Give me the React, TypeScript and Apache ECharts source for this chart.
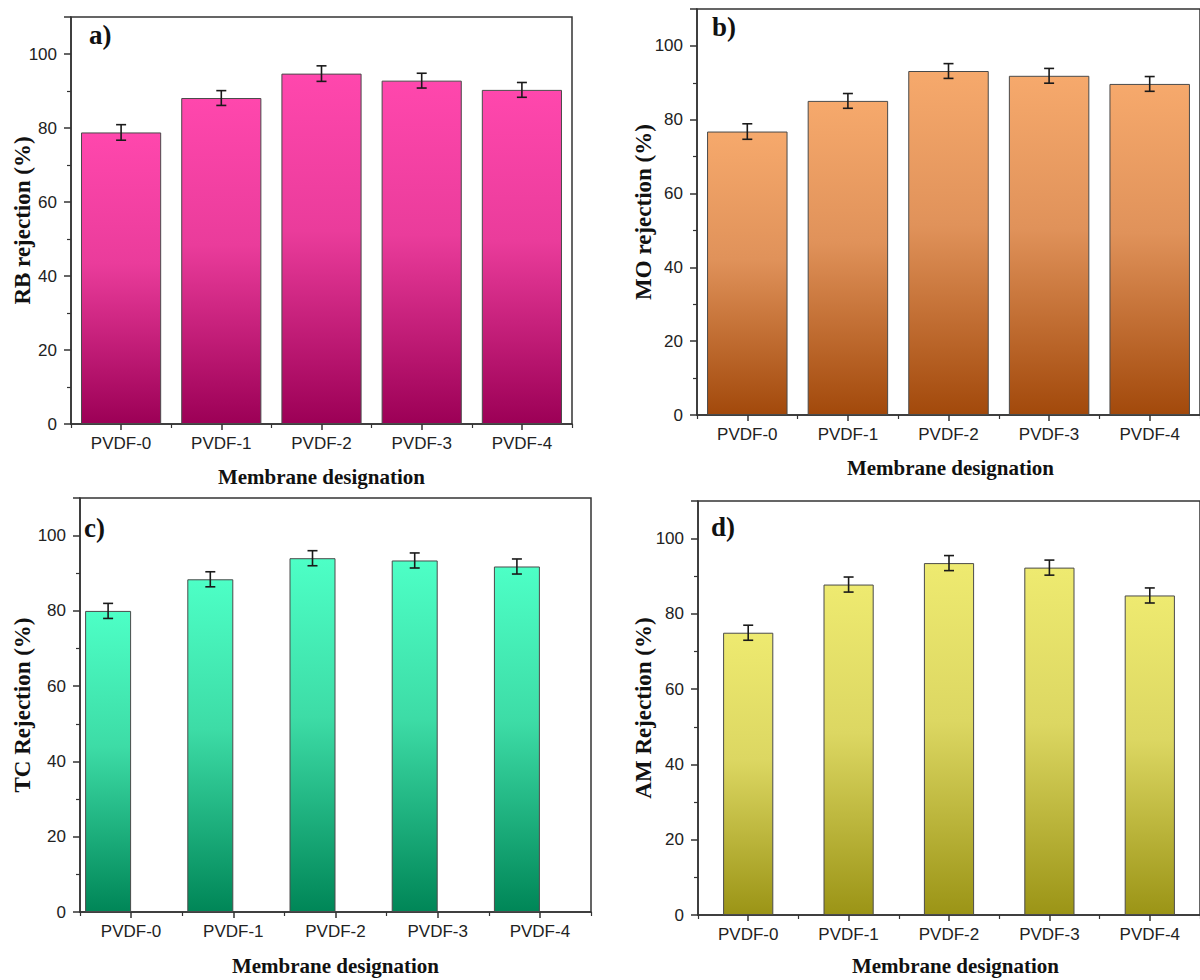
import React, { useEffect, useRef } from 'react';
import * as echarts from 'echarts';

// ---------- data ----------
const categories = ['PVDF-0', 'PVDF-1', 'PVDF-2', 'PVDF-3', 'PVDF-4'];
const rbRejection = [78.8, 88.1, 94.7, 92.8, 90.3];
const moRejection = [76.8, 85.1, 93.2, 91.9, 89.7];
const tcRejection = [80.0, 88.4, 94.0, 93.4, 91.8];
const amRejection = [75.0, 87.8, 93.5, 92.3, 84.9];
const rbError = [2.1, 2.0, 2.1, 2.0, 2.0];
const moError = [2.1, 2.0, 2.0, 2.0, 2.0];
const tcError = [2.0, 2.0, 2.0, 2.0, 2.0];
const amError = [2.0, 2.0, 2.0, 2.0, 2.0];
const yTickLabels = [0, 20, 40, 60, 80, 100];
const yMax = 110;
const panelLabels = ['a)', 'b)', 'c)', 'd)'];
const yTitles = ['RB rejection (%)', 'MO rejection (%)', 'TC Rejection (%)', 'AM Rejection (%)'];
const xTitle = 'Membrane designation';

// ---------- layout / style ----------
const panels = [
  {
    values: rbRejection, errors: rbError,
    grid: { left: 71, top: 17, width: 501, height: 407 },
    stops: [[0, '#ff47ad'], [0.45, '#ea3c9b'], [1, '#9c0056']],
    barCategoryGap: '20%', offsetBars: false, errOffset: 0,
    label: { x: 89, y: 35 }, yTitle: { x: 22 }, xTitleDy: 53,
  },
  {
    values: moRejection, errors: moError,
    grid: { left: 697, top: 9, width: 507, height: 406 },
    stops: [[0, '#f6a96c'], [0.45, '#e0925a'], [1, '#a2490b']],
    barCategoryGap: '20%', offsetBars: false, errOffset: 0,
    label: { x: 712, y: 27 }, yTitle: { x: 643 }, xTitleDy: 53,
  },
  {
    values: tcRejection, errors: tcError,
    grid: { left: 80, top: 498, width: 511, height: 414 },
    stops: [[0, '#4dffc6'], [0.45, '#3ddca6'], [1, '#008657']],
    barCategoryGap: '10%', offsetBars: true, errOffset: -0.225,
    label: { x: 84, y: 528 }, yTitle: { x: 22 }, xTitleDy: 54,
  },
  {
    values: amRejection, errors: amError,
    grid: { left: 698, top: 501, width: 515, height: 414 },
    stops: [[0, '#eeea70'], [0.45, '#dcd762'], [1, '#9b9416']],
    barCategoryGap: '50%', offsetBars: false, errOffset: 0,
    label: { x: 711, y: 527 }, yTitle: { x: 643 }, xTitleDy: 51,
  },
];

const SANS = '"Liberation Sans", Arial, sans-serif';
const SERIF = '"Liberation Serif", "Times New Roman", serif';
const AXIS_COLOR = '#333';

export default function App() {
  const ref = useRef<HTMLDivElement>(null);

  useEffect(() => {
    document.body.style.margin = '0';
    if (!ref.current) return;
    const chart = echarts.init(ref.current, undefined, { renderer: 'svg' });

    const grids: any[] = [];
    const xAxes: any[] = [];
    const yAxes: any[] = [];
    const series: any[] = [];
    const graphics: any[] = [];

    panels.forEach((p, i) => {
      grids.push({
        ...p.grid,
        show: true,
        borderColor: AXIS_COLOR,
        borderWidth: 1.5,
        backgroundColor: 'transparent',
        containLabel: false,
      });
      xAxes.push({
        type: 'category',
        gridIndex: i,
        data: categories,
        position: 'bottom',
        boundaryGap: true,
        axisLine: { show: true, lineStyle: { color: AXIS_COLOR, width: 1.5 } },
        axisTick: { show: true, alignWithLabel: true, length: 6, lineStyle: { color: AXIS_COLOR, width: 1.5 } },
        axisLabel: { show: true, fontSize: 17, fontFamily: SANS, color: '#222', margin: 11 },
        splitLine: { show: false },
      });
      xAxes.push({
        type: 'category',
        gridIndex: i,
        data: categories,
        position: 'bottom',
        boundaryGap: true,
        axisLine: { show: false },
        axisTick: { show: true, length: 4, lineStyle: { color: AXIS_COLOR, width: 1.2 } },
        axisLabel: { show: false },
        splitLine: { show: false },
      });
      yAxes.push({
        type: 'value',
        gridIndex: i,
        min: 0,
        max: yMax,
        interval: 20,
        axisLine: { show: true, lineStyle: { color: AXIS_COLOR, width: 1.5 } },
        axisTick: { show: true, length: 7, lineStyle: { color: AXIS_COLOR, width: 1.5 } },
        minorTick: { show: true, splitNumber: 2, length: 4, lineStyle: { color: AXIS_COLOR, width: 1.2 } },
        axisLabel: {
          fontSize: 17, fontFamily: SANS, color: '#222', margin: 14,
          formatter: (v: number) => (yTickLabels.indexOf(v) >= 0 ? String(v) : ''),
        },
        splitLine: { show: false },
        minorSplitLine: { show: false },
      });

      const gradient = new echarts.graphic.LinearGradient(0, 0, 0, 1,
        p.stops.map(([o, c]) => ({ offset: o as number, color: c as string })));

      series.push({
        type: 'bar',
        xAxisIndex: 2 * i,
        yAxisIndex: i,
        data: p.values,
        barCategoryGap: p.barCategoryGap,
        barGap: '0%',
        itemStyle: { color: gradient, borderColor: '#4a4a4a', borderWidth: 1 },
        z: 2,
      });
      if (p.offsetBars) {
        series.push({
          type: 'bar',
          xAxisIndex: 2 * i,
          yAxisIndex: i,
          data: p.values.map(() => null),
          barCategoryGap: p.barCategoryGap,
          barGap: '0%',
          itemStyle: { color: 'transparent' },
        });
      }
      const off = p.errOffset;
      series.push({
        type: 'custom',
        xAxisIndex: 2 * i,
        yAxisIndex: i,
        data: p.values.map((v, k) => [k, v - p.errors[k], v + p.errors[k]]),
        encode: { x: 0, y: [1, 2] },
        z: 10,
        renderItem: (params: any, api: any) => {
          const k = api.value(0);
          const lo = api.coord([k, api.value(1)]);
          const hi = api.coord([k, api.value(2)]);
          const cw = api.size([1, 0])[0];
          const x = lo[0] + off * cw;
          const hw = 5;
          const style = { stroke: '#1a1a1a', lineWidth: 1.6, fill: null };
          return {
            type: 'group',
            children: [
              { type: 'line', shape: { x1: x, y1: hi[1], x2: x, y2: lo[1] }, style },
              { type: 'line', shape: { x1: x - hw, y1: hi[1], x2: x + hw, y2: hi[1] }, style },
              { type: 'line', shape: { x1: x - hw, y1: lo[1], x2: x + hw, y2: lo[1] }, style },
            ],
          };
        },
      });

      const g = p.grid;
      graphics.push({
        type: 'text',
        x: p.label.x,
        y: p.label.y,
        style: {
          text: panelLabels[i], fontSize: 27, fontWeight: 'bold', fontFamily: SERIF,
          fill: '#111', align: 'left', verticalAlign: 'middle',
        },
      });
      graphics.push({
        type: 'text',
        x: p.yTitle.x,
        y: g.top + g.height / 2,
        rotation: Math.PI / 2,
        style: {
          text: yTitles[i], fontSize: 23, fontWeight: 'bold', fontFamily: SERIF,
          fill: '#111', align: 'center', verticalAlign: 'middle',
        },
      });
      graphics.push({
        type: 'text',
        x: g.left + g.width / 2,
        y: g.top + g.height + p.xTitleDy,
        style: {
          text: xTitle, fontSize: 21, fontWeight: 'bold', fontFamily: SERIF,
          fill: '#111', align: 'center', verticalAlign: 'middle',
        },
      });
    });

    chart.setOption({
      animation: false,
      backgroundColor: '#ffffff',
      grid: grids,
      xAxis: xAxes,
      yAxis: yAxes,
      series,
      graphic: graphics,
    });

    return () => chart.dispose();
  }, []);

  return <div ref={ref} style={{ width: 1200, height: 980 }} />;
}
